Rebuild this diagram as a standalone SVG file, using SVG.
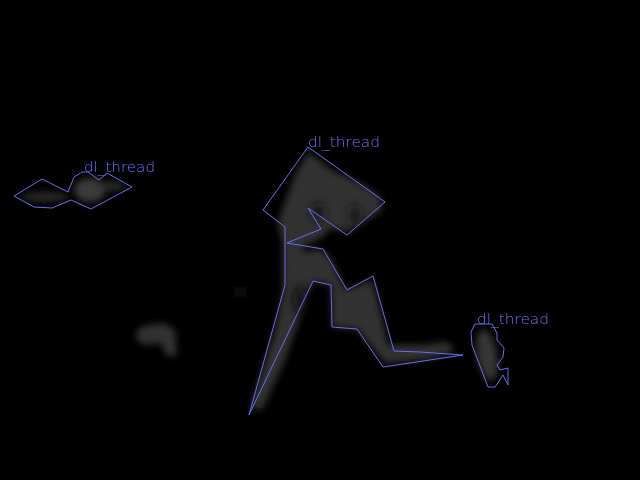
<svg xmlns="http://www.w3.org/2000/svg" width="640" height="480" viewBox="0 0 640 480">
<style>
.outline{fill:none;stroke:#6a6cf4;stroke-width:1;stroke-linejoin:miter}
.lbl{font-family:"DejaVu Sans","Liberation Sans",sans-serif;font-weight:200;font-size:14.5px;fill:#7274ff}
.blob{fill:#333333}
</style>
<defs>
<filter id="blur" x="-30%" y="-30%" width="160%" height="160%"><feGaussianBlur stdDeviation="3.5"/></filter>
<filter id="blur2" x="-50%" y="-50%" width="200%" height="200%"><feGaussianBlur stdDeviation="5"/></filter>
</defs>
<rect width="640" height="480" fill="#000"/>
<g id="shadows" filter="url(#blur)">
<ellipse cx="45" cy="197" rx="24" ry="5" fill="#2a2a2a"/>
<ellipse cx="90" cy="190" rx="16" ry="12" fill="#3a3a3a"/>
<ellipse cx="112" cy="186" rx="14" ry="5" fill="#2a2a2a"/>
<path class="blob" d="M135,338 L140,327 L163,323 L175,330 L177,355 L168,357 L160,343 L145,345 Z"/>
<path class="blob" d="M308,152 L332,170 L362,184 L380,196 L382,210 L350,232 L330,228 L322,238 L305,245 L300,252 L322,249 L333,262 L345,290 L372,280 L378,300 L388,345 L420,345 L448,342 L455,352 L425,360 L385,363 L357,329 L332,327 L331,285 L313,281 L285,360 L262,410 L250,408 L275,330 L283,290 L283,245 L278,222 L295,175 Z"/>
<ellipse cx="487" cy="355" rx="10" ry="26" fill="#363636" transform="rotate(-10 487 355)"/>
</g>
<g id="holes" filter="url(#blur2)">
<ellipse cx="318" cy="212" rx="6" ry="9" fill="#161616"/>
<ellipse cx="355" cy="216" rx="5" ry="11" fill="#161616"/>
<ellipse cx="300" cy="300" rx="6" ry="14" fill="#0a0a0a"/>
</g>
<g id="faint" filter="url(#blur2)">
<ellipse cx="168" cy="188" rx="10" ry="3" fill="#101010"/>
<ellipse cx="240" cy="292" rx="10" ry="3" fill="#121212"/>
<ellipse cx="410" cy="232" rx="8" ry="3" fill="#0c0c0c"/>
</g>
<g id="node-1">
<polygon class="outline" points="14,196 42,179 68,192 74,177 82,172 88,172 99,180 107,173 132,187 91,209 71,200 52,208 34,207"/>
<text class="lbl" x="84" y="172" textLength="71" lengthAdjust="spacingAndGlyphs">dl_thread</text>
</g>
<g id="node-2">
<polygon class="outline" points="308,147 385,202 347,235 308,208 321,229 287,243 323,249 347,290 373,276 394,351 420,352 463,355 383,367 357,329 332,327 331,285 313,281 249,415 285,285 285,227 263,210"/>
<text class="lbl" x="308" y="147" textLength="72" lengthAdjust="spacingAndGlyphs">dl_thread</text>
</g>
<g id="node-3">
<polygon class="outline" points="475,324 492,324 497,333 497,340 504,348 503,357 497,365 500,370 508,368 508,385 503,375 495,387 488,387 472,345 471,332"/>
<text class="lbl" x="477" y="324" textLength="72" lengthAdjust="spacingAndGlyphs">dl_thread</text>
</g>
<g id="connectors"></g>
</svg>
